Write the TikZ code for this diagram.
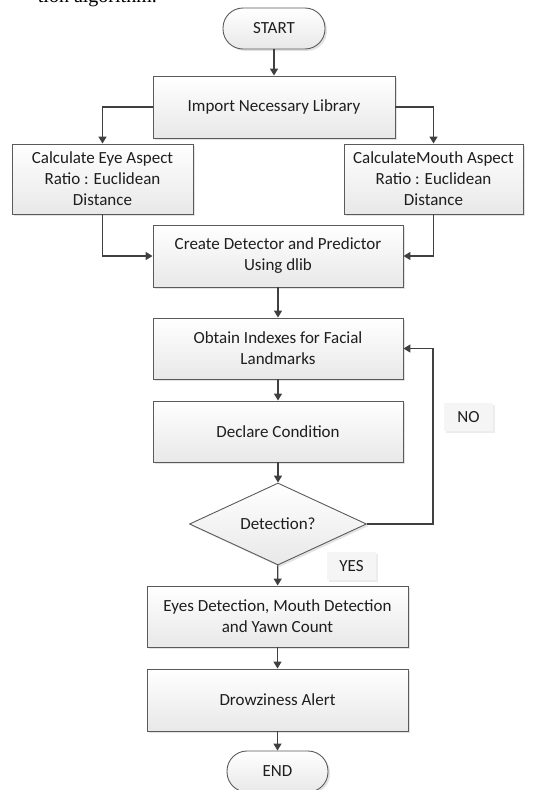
\documentclass[tikz,border=0pt]{standalone}
\usepackage{fontspec}
\setmainfont{Carlito}
\newfontfamily\serifcap{Liberation Serif}
\usetikzlibrary{arrows.meta,shapes.geometric,shadows}
\definecolor{linec}{HTML}{404040}
\definecolor{boxb}{HTML}{5A5A5A}
\definecolor{txt}{HTML}{1E1E1E}
\tikzset{
  base/.style={draw=boxb, line width=0.9pt, top color=white, bottom color=black!9,
    drop shadow={opacity=0.22, shadow xshift=2pt, shadow yshift=-2pt},
    text=txt, font=\fontsize{17}{21}\selectfont, align=center, inner sep=0pt},
  procbox/.style={base, rectangle},
  termbox/.style={base, rectangle, rounded corners=20pt},
  decbox/.style={base, diamond, aspect=2.16},
  lbl/.style={fill=black!4, text=txt, font=\fontsize{17}{21}\selectfont, inner sep=0pt,
    drop shadow={opacity=0.15, shadow xshift=2pt, shadow yshift=-2pt}},
  arr/.style={draw=linec, line width=1.4pt, -{Triangle[width=8pt,length=7pt]}},
}
\begin{document}
\begin{tikzpicture}[x=1pt,y=-1pt]
\useasboundingbox (0,0) rectangle (534,790);
\begin{scope}
\clip (0,0) rectangle (534,790);
\node[anchor=base east, font=\serifcap\fontsize{20}{24}\selectfont, inner sep=0pt] (cap) at (157,2.5) {tion algorithm.};
\end{scope}

\node[termbox, minimum width=102pt, minimum height=41pt] (start) at (274,28.5) {START};
\node[procbox, minimum width=242pt, minimum height=62pt] (import) at (274,107) {Import Necessary Library};
\node[procbox, minimum width=181pt, minimum height=70pt] (eye) at (102.5,179) {Calculate Eye Aspect\\Ratio : Euclidean\\Distance};
\node[procbox, minimum width=179pt, minimum height=70pt] (mouth) at (433.5,179) {CalculateMouth Aspect\\Ratio : Euclidean\\Distance};
\node[procbox, minimum width=250pt, minimum height=62pt] (create) at (278,256) {Create Detector and Predictor\\Using dlib};
\node[procbox, minimum width=250pt, minimum height=61pt] (obtain) at (278,348.5) {Obtain Indexes for Facial\\Landmarks};
\node[procbox, minimum width=250pt, minimum height=61pt] (declare) at (278,431.5) {Declare Condition};
\node[decbox, minimum width=177pt, minimum height=82pt] (detect) at (278,524) {Detection?};
\node[procbox, minimum width=261pt, minimum height=61pt] (eyes) at (277.5,616.5) {Eyes Detection, Mouth Detection\\and Yawn Count};
\node[procbox, minimum width=261pt, minimum height=62pt] (alert) at (277.5,700) {Drowziness Alert};
\node[termbox, minimum width=101pt, minimum height=41pt] (stop) at (277.5,771.5) {END};

\node[lbl, minimum width=49pt, minimum height=28pt] (no) at (468.5,417) {NO};
\node[lbl, minimum width=49pt, minimum height=28pt] (yes) at (351.5,566) {YES};

\coordinate (loop) at (433,524);

\draw[arr] (start) -- (import);
\draw[arr] (import.west) -| (eye.north);
\draw[arr] (import.east) -| (mouth.north);
\draw[arr] (eye.south) |- (create.west);
\draw[arr] (mouth.south) |- (create.east);
\draw[arr] (create) -- (obtain);
\draw[arr] (obtain) -- (declare);
\draw[arr] (declare) -- (detect);
\draw[arr] (detect.east) -- (loop) |- (obtain.east);
\draw[arr] (detect) -- (eyes);
\draw[arr] (eyes) -- (alert);
\draw[arr] (alert) -- (stop);
\end{tikzpicture}
\end{document}
